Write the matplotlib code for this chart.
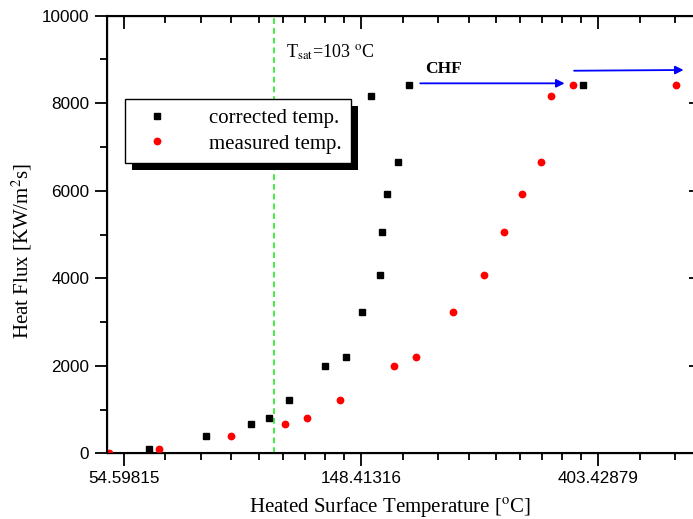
import numpy as np
import matplotlib
matplotlib.use('Agg')
import matplotlib.pyplot as plt
import matplotlib.ticker as mticker
import matplotlib.patheffects as pe

# Data (temperature in degC, heat flux in KW/m2s)
t_corrected = [60.8, 77.2, 93.2, 100.6, 109.3, 127.7, 139.2, 148.9, 160.9,
               162.3, 165.5, 173.1, 154.7, 181.8, 378.5]
q_corrected = [105, 402, 670, 814, 1226, 1995, 2193, 3229, 4067,
               5050, 5933, 6664, 8165, 8424, 8424]

t_measured = [51.3, 63.3, 85.8, 107.7, 118.3, 135.7, 170.6, 186.8, 218.6,
              248.8, 271.0, 292.6, 316.4, 330.3, 362.7, 560.6]
q_measured = [14, 105, 402, 670, 814, 1226, 1995, 2193, 3229,
              4067, 5050, 5933, 6664, 8165, 8424, 8424]

t_sat = 103
x_major = [np.e**4, np.e**5, np.e**6]
x_major_labels = ['54.59815', '148.41316', '403.42879']
x_limits = (50.89, 622.0)

# CHF arrows (start, end) in data coords
chf_arrow1 = ((190.4, 8455), (350.0, 8455))
chf_arrow2 = ((364.3, 8743), (578.0, 8760))

plt.rcParams['font.family'] = ['Liberation Serif', 'DejaVu Serif']
plt.rcParams['mathtext.fontset'] = 'stix'

fig = plt.figure(figsize=(6.93, 5.19), dpi=100)
ax = fig.add_axes([0.1548, 0.1266, 0.8567, 0.8431])

ax.plot(t_corrected, q_corrected, 's', color='black', markersize=4.8,
        label='corrected temp.', zorder=4)
ax.plot(t_measured, q_measured, 'o', color='red', markersize=5.6,
        markeredgewidth=0, label='measured temp.', zorder=4)

ax.axvline(t_sat, color='#33ee33', linewidth=1.3, dashes=(3.2, 2.2), zorder=2)

ax.set_xscale('log', base=np.e)
ax.set_xlim(*x_limits)
ax.set_ylim(0, 10000)

# linear minor subdivisions between e^n, as in Origin's ln scale
minor = []
for n in range(3, 7):
    lo, hi = np.e**n, np.e**(n + 1)
    minor += [lo + k * (hi - lo) / 9 for k in range(1, 9)]

def set_xticks(a):
    a.xaxis.set_major_locator(mticker.FixedLocator(x_major))
    a.xaxis.set_minor_locator(mticker.FixedLocator(minor))

set_xticks(ax)
ax.xaxis.set_major_formatter(mticker.FixedFormatter(x_major_labels))
ax.xaxis.set_minor_formatter(mticker.NullFormatter())
ax.yaxis.set_major_locator(mticker.MultipleLocator(2000))
ax.yaxis.set_minor_locator(mticker.MultipleLocator(1000))

ax.tick_params(which='major', direction='out', length=9, width=1.3,
               labelsize=12.3, pad=4)
ax.tick_params(which='minor', direction='out', length=5, width=1.3)
for lab in ax.get_xticklabels() + ax.get_yticklabels():
    lab.set_fontfamily('Liberation Sans')

for sp in ax.spines.values():
    sp.set_linewidth(1.5)

# mirrored inward ticks on top and right
axt = ax.twiny()
axt.set_xscale('log', base=np.e)
axt.set_xlim(*x_limits)
set_xticks(axt)
axt.xaxis.set_major_formatter(mticker.NullFormatter())
axt.xaxis.set_minor_formatter(mticker.NullFormatter())
axt.tick_params(which='major', direction='in', length=9, width=1.3)
axt.tick_params(which='minor', direction='in', length=5, width=1.3)
axt.yaxis.set_visible(False)

axr = ax.twinx()
axr.set_ylim(0, 10000)
axr.yaxis.set_major_locator(mticker.MultipleLocator(2000))
axr.yaxis.set_minor_locator(mticker.MultipleLocator(1000))
axr.yaxis.set_major_formatter(mticker.NullFormatter())
axr.tick_params(which='major', direction='in', length=9, width=1.3)
axr.tick_params(which='minor', direction='in', length=5, width=1.3)

xl = ax.set_xlabel(r'Heated Surface Temperature [$^{\rm o}$C]', fontsize=15)
xl.set_va('baseline')
ax.xaxis.set_label_coords(0.476, -0.134)
ax.set_ylabel(r'Heat Flux [KW/m$^2$s]', fontsize=15)
ax.yaxis.set_label_coords(-0.124, 0.462)

ax.text(108.1, 9050, r'T$_{\rm sat}$=103 $^{\rm o}$C', fontsize=13, ha='left',
        va='baseline')
ax.text(194, 8700, 'CHF', fontsize=12.5, fontweight='bold', ha='left',
        va='baseline')

for (x0, y0), (x1, y1) in (chf_arrow1, chf_arrow2):
    ax.annotate('', xy=(x1, y1), xytext=(x0, y0),
                arrowprops=dict(arrowstyle='-|>', color='blue', lw=1.3,
                                mutation_scale=12, shrinkA=0, shrinkB=0),
                zorder=3)

leg = ax.legend(loc='upper left', bbox_to_anchor=(0.03, 0.81), fontsize=15,
                frameon=True, fancybox=False, framealpha=1,
                edgecolor='black', handletextpad=1.4, borderpad=0.45,
                labelspacing=0.3, handlelength=2.2, borderaxespad=0)
leg.get_frame().set_linewidth(1.0)
leg.get_frame().set_path_effects([
    pe.SimplePatchShadow(offset=(5, -5), shadow_rgbFace='black', alpha=1),
    pe.Normal()])
leg.set_zorder(5)

fig.savefig('out.png', dpi=100, facecolor='white')
